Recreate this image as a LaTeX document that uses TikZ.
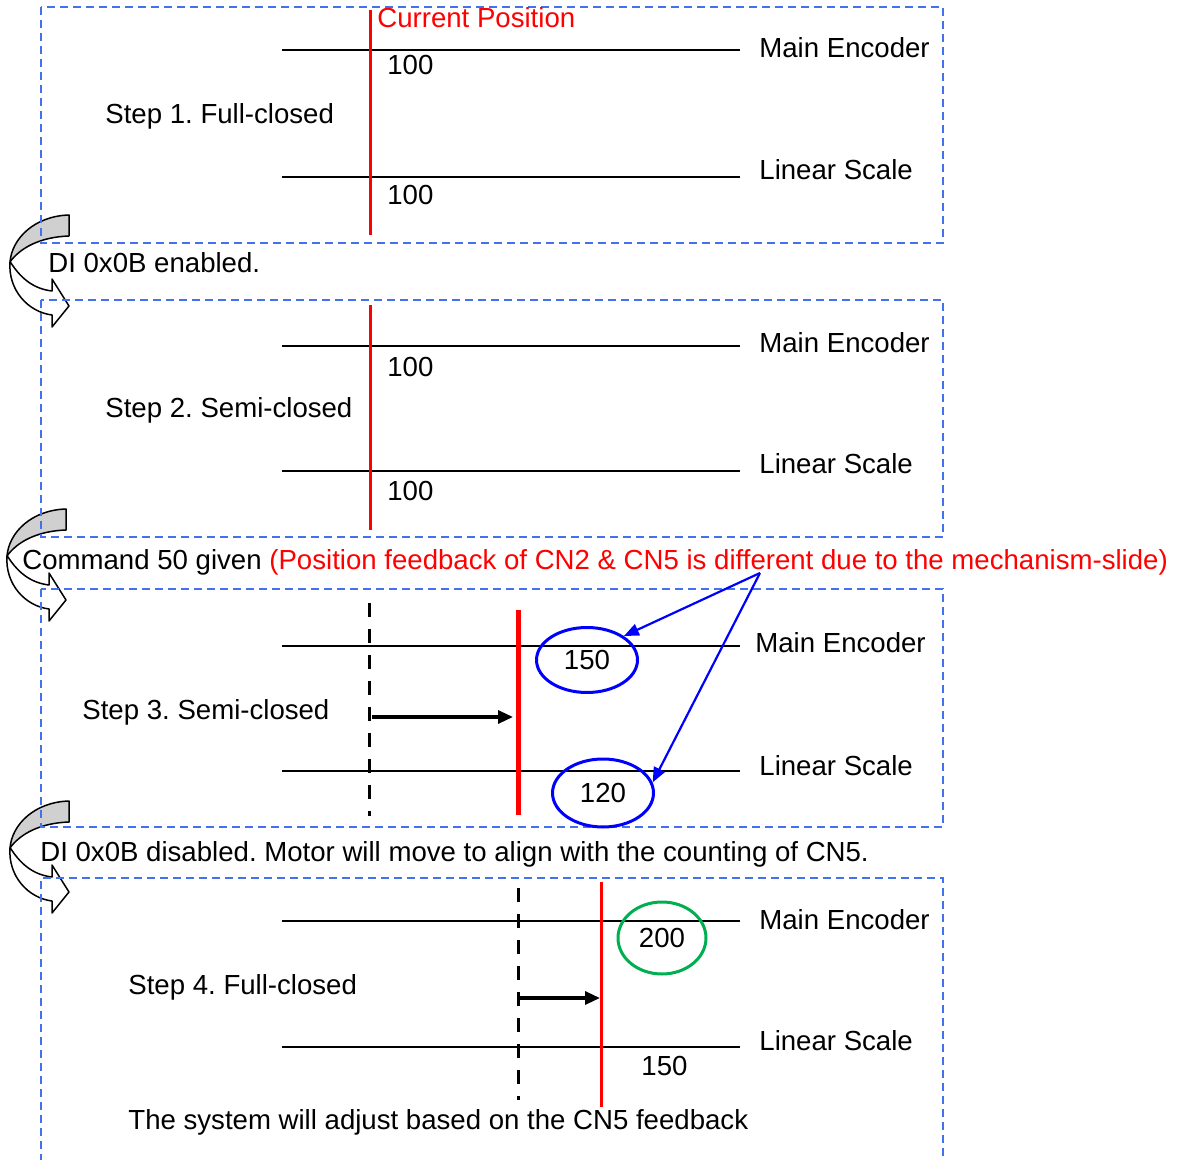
\documentclass[tikz,border=0pt]{standalone}
\usepackage{fontspec}
\setmainfont{Liberation Sans}
\usetikzlibrary{arrows.meta,shapes.geometric}
\definecolor{frame}{RGB}{68,114,236}
\definecolor{okgreen}{RGB}{0,176,80}
\definecolor{shade}{RGB}{208,208,208}

\begin{document}
\frenchspacing
\begin{tikzpicture}[
    x=.5pt, y=-.5pt,
    txt/.style={font=\fontsize{13.8}{16}\selectfont, inner sep=0pt, anchor=base west},
    stepframe/.style={draw=frame, line width=.75pt, dash pattern=on 4pt off 2.5pt},
    scaleline/.style={line width=.75pt},
    posline/.style={draw=red, line width=1.5pt},
    oldpos/.style={line width=1.5pt, dash pattern=on 7pt off 6pt},
    move/.style={line width=1.6pt, -{Triangle[length=7.5pt, width=6.5pt]}},
    hint/.style={draw=blue, line width=1.1pt, -{Triangle[length=7.5pt, width=6pt]}},
    count/.style={ellipse, line width=1.5pt, inner sep=0pt,
        font=\fontsize{13.8}{16}\selectfont},
    turn/.style={draw=black, line width=.75pt, line join=round},
]
    \useasboundingbox (0,0) rectangle (1184,1160);

    %% the curved block arrows between the steps, under the frames
    \foreach \dx/\dy in {0/0, -3/294, 0/586}{
        \begin{scope}[shift={(\dx,\dy)}]
            \filldraw[turn, fill=shade] (69,215) .. controls (35,216) and (12,238) .. (10,262)
                .. controls (20,248) and (40,237) .. (69,236) -- cycle;
            \filldraw[turn, fill=white] (11,263) .. controls (22,280) and (35,289) .. (52,291)
                -- (52,279) -- (69,306) -- (52,327) -- (52,315)
                .. controls (28,312) and (8,290) .. (10,262) -- cycle;
        \end{scope}
    }

    %% one dashed frame per step; the last one runs off the page
    \foreach \top/\bot in {7/243, 300/537, 589/827}
        \draw[stepframe] (41,\top) rectangle (943,\bot);
    \draw[stepframe] (41,1162) -- (41,878) -- (943,878) -- (943,1162);

    %% main encoder and linear scale, one pair of lines per step
    \foreach \me/\ls in {50/177, 346/471, 646/771, 921/1047}{
        \draw[scaleline] (282,\me) -- (740,\me);
        \draw[scaleline] (282,\ls) -- (740,\ls);
    }
    \foreach \n/\x/\me/\ls in {1/759/58/180, 2/759/353/474, 3/755/653/775, 4/759/929/1050}{
        \node[txt] (enc\n) at (\x,\me) {Main Encoder};
        \node[txt] (lin\n) at (759,\ls) {Linear Scale};
    }

    %% step 1 and step 2: both counters at 100
    \coordinate (posA) at (370,10);
    \coordinate (posB) at (370,235);
    \draw[posline] (posA) -- (posB);
    \node[txt, text=red] (curpos) at (377,28) {Current Position};
    \coordinate (posC) at (370,305);
    \coordinate (posD) at (370,530);
    \draw[posline] (posC) -- (posD);
    \foreach \n/\y in {a/75, b/205, c/377, d/501}
        \node[txt] (cnt\n) at (387,\y) {100};
    \node[txt] (step1) at (105,124) {Step 1. Full-closed};
    \node[txt] (step2) at (105,418) {Step 2. Semi-closed};

    %% step 3: the motor moves 50, the counters disagree
    \coordinate (oldE) at (369,603);
    \coordinate (oldF) at (369,816);
    \draw[oldpos] (oldE) -- (oldF);
    \coordinate (posE) at (518,610);
    \coordinate (posF) at (518,815);
    \draw[posline, line width=2.5pt] (posE) -- (posF);
    \coordinate (moveE) at (372,717);
    \coordinate (moveF) at (513,717);
    \draw[move] (moveE) -- (moveF);
    \node[txt] (step3) at (82,719) {Step 3. Semi-closed};
    \node[count, draw=blue, minimum width=50.5pt, minimum height=32.5pt]
        (e150) at (587,660) {150};
    \node[count, draw=blue, minimum width=50.5pt, minimum height=34pt]
        (e120) at (603,793) {120};
    \coordinate (fbk) at (760,573);
    \draw[hint] (fbk) -- (e150.33);
    \draw[hint] (fbk) -- (e120.12);

    %% step 4: back to full-closed, aligned with CN5
    \coordinate (oldG) at (518,888);
    \coordinate (oldH) at (518,1100);
    \draw[oldpos] (oldG) -- (oldH);
    \coordinate (posG) at (601,882);
    \coordinate (posH) at (601,1107);
    \draw[posline] (posG) -- (posH);
    \coordinate (moveG) at (519,998);
    \coordinate (moveH) at (600,998);
    \draw[move] (moveG) -- (moveH);
    \node[txt] (step4) at (128,994) {Step 4. Full-closed};
    \node[count, draw=okgreen, minimum width=44pt, minimum height=36pt]
        (e200) at (662,938) {200};
    \node[txt] (cnte) at (641,1075) {150};

    %% notes between the frames
    \node[txt] (note1) at (48,273) {DI 0x0B enabled.};
    \node[txt] (note2) at (22,570) {Command 50 given
        \textcolor{red}{(Position feedback of CN2 \& CN5 is different due to the mechanism-slide)}};
    \node[txt] (note3) at (40,861) {DI 0x0B disabled. Motor will move to align with the counting of CN5.};
    \node[txt] (note4) at (128,1129) {The system will adjust based on the CN5 feedback};
\end{tikzpicture}
\end{document}
